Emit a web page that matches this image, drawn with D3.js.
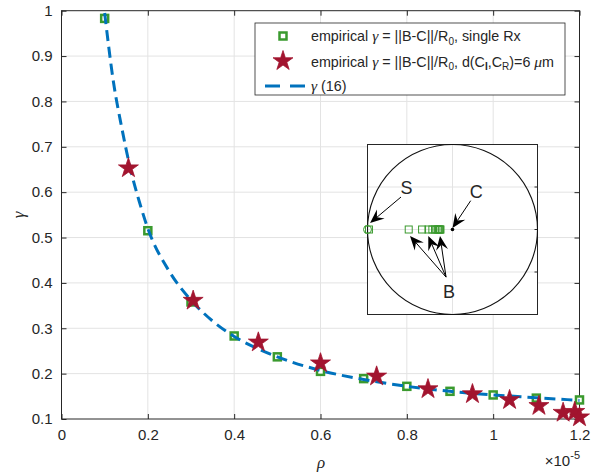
<!DOCTYPE html>
<html>
<head>
<meta charset="utf-8">
<script src="https://cdn.jsdelivr.net/npm/d3@7"></script>
<style>
  body { margin: 0; background: #fff; }
  text { font-family: "Liberation Sans", Arial, Helvetica, sans-serif; fill: #262626; }
  .tex { font-family: "Liberation Serif", "Times New Roman", serif; font-style: italic; }
</style>
</head>
<body>
<div id="chart"></div>
<script>
// rho values in units of 1e-5
const rhoSingle = [0.1, 0.2, 0.3, 0.4, 0.5, 0.6, 0.7, 0.8, 0.9, 1.0, 1.1, 1.2];
const gammaSingle = [0.983, 0.515, 0.358, 0.283, 0.237, 0.205, 0.189, 0.172, 0.161, 0.153, 0.146, 0.142];

const rhoPair = [0.155, 0.305, 0.456, 0.600, 0.730, 0.849, 0.952, 1.038, 1.106, 1.162, 1.189, 1.2];
const gammaPair = [0.653, 0.361, 0.269, 0.223, 0.194, 0.166, 0.155, 0.142, 0.129, 0.114, 0.116, 0.104];

const rhoCurve = [0.1, 0.12, 0.14, 0.16, 0.18, 0.2, 0.25, 0.3, 0.35, 0.4, 0.45, 0.5, 0.6, 0.7, 0.8, 0.9, 1.0, 1.1, 1.2];
const gammaCurve = [0.995, 0.845, 0.74, 0.65, 0.58, 0.52, 0.425, 0.362, 0.316, 0.282, 0.257, 0.237, 0.207, 0.187, 0.172, 0.161, 0.153, 0.147, 0.141];

const xTicks = [0, 0.2, 0.4, 0.6, 0.8, 1, 1.2];
const yTicks = [0.1, 0.2, 0.3, 0.4, 0.5, 0.6, 0.7, 0.8, 0.9, 1];

const green = "#3a9a2e";
const red = "#a2142f";
const blue = "#0072bd";
const axisColor = "#262626";

const width = 603, height = 472;
const svg = d3.select("#chart").append("svg")
  .attr("width", width).attr("height", height);

const x = d3.scaleLinear().domain([0, 1.2]).range([61.5, 579.5]);
const y = d3.scaleLinear().domain([0.1, 1]).range([419, 10.7]);

// grid
svg.append("g").selectAll("line").data(xTicks.slice(1, -1)).enter().append("line")
  .attr("x1", d => x(d)).attr("x2", d => x(d))
  .attr("y1", y(0.1)).attr("y2", y(1))
  .attr("stroke", "#e3e3e3").attr("stroke-width", 1);
svg.append("g").selectAll("line").data(yTicks.slice(1, -1)).enter().append("line")
  .attr("y1", d => y(d)).attr("y2", d => y(d))
  .attr("x1", x(0)).attr("x2", x(1.2))
  .attr("stroke", "#e3e3e3").attr("stroke-width", 1);

// axes (box with inward ticks on all sides)
const fmt = d => String(d);
svg.append("g").attr("transform", `translate(0,${y(0.1)})`)
  .call(d3.axisBottom(x).tickValues(xTicks).tickSize(-5).tickPadding(10).tickFormat(fmt))
  .call(g => g.select(".domain").remove());
svg.append("g").attr("transform", `translate(0,${y(1)})`)
  .call(d3.axisTop(x).tickValues(xTicks).tickSize(-5).tickFormat(""))
  .call(g => g.select(".domain").remove());
svg.append("g").attr("transform", `translate(${x(0)},0)`)
  .call(d3.axisLeft(y).tickValues(yTicks).tickSize(-5).tickPadding(9).tickFormat(fmt))
  .call(g => g.select(".domain").remove());
svg.append("g").attr("transform", `translate(${x(1.2)},0)`)
  .call(d3.axisRight(y).tickValues(yTicks).tickSize(-5).tickFormat(""))
  .call(g => g.select(".domain").remove());
svg.selectAll(".tick line").attr("stroke", axisColor);
svg.selectAll(".tick text").attr("font-size", 15).attr("fill", "#1a1a1a")
  .style("font-family", "'Liberation Sans', Arial, sans-serif");

svg.append("rect")
  .attr("x", x(0)).attr("y", y(1))
  .attr("width", x(1.2) - x(0)).attr("height", y(0.1) - y(1))
  .attr("fill", "none").attr("stroke", axisColor).attr("stroke-width", 1);

// axis labels
svg.append("text").attr("class", "tex")
  .attr("x", 321).attr("y", 468).attr("text-anchor", "middle")
  .attr("font-size", 17).text("\u03C1");
svg.append("text").attr("class", "tex")
  .attr("transform", "translate(24,215) rotate(-90)").attr("text-anchor", "middle")
  .attr("font-size", 17).text("\u03B3");
const expo = svg.append("text").attr("x", 580).attr("y", 466)
  .attr("text-anchor", "end").attr("font-size", 15);
expo.append("tspan").text("\u00D710");
expo.append("tspan").attr("dy", -7).attr("font-size", 11).text("-5");

// markers
function pentagram(r) {
  const pts = [];
  for (let i = 0; i < 10; i++) {
    const a = -Math.PI / 2 + i * Math.PI / 5;
    const rr = i % 2 === 0 ? r : r * 0.382;
    pts.push([rr * Math.cos(a), rr * Math.sin(a)]);
  }
  return "M" + pts.map(p => p.join(",")).join("L") + "Z";
}

const single = rhoSingle.map((r, i) => ({ r, g: gammaSingle[i] }));
const pair = rhoPair.map((r, i) => ({ r, g: gammaPair[i] }));
const curve = rhoCurve.map((r, i) => ({ r, g: gammaCurve[i] }));

const sq = 7;
svg.append("g").selectAll("rect").data(single).enter().append("rect")
  .attr("x", d => x(d.r) - sq / 2).attr("y", d => y(d.g) - sq / 2)
  .attr("width", sq).attr("height", sq)
  .attr("fill", "#fff").attr("stroke", green).attr("stroke-width", 2.5);

svg.append("path").datum(curve)
  .attr("d", d3.line().x(d => x(d.r)).y(d => y(d.g)).curve(d3.curveMonotoneX))
  .attr("fill", "none").attr("stroke", blue).attr("stroke-width", 3)
  .attr("stroke-dasharray", "11,6");

svg.append("g").selectAll("path").data(pair).enter().append("path")
  .attr("d", pentagram(10.5))
  .attr("transform", d => `translate(${x(d.r)},${y(d.g)})`)
  .attr("fill", red).attr("stroke", red).attr("stroke-width", 0.8);

// legend
const lg = svg.append("g");
lg.append("rect").attr("x", 255).attr("y", 23).attr("width", 310).attr("height", 72)
  .attr("fill", "#fff").attr("stroke", axisColor).attr("stroke-width", 0.8);
lg.append("rect").attr("x", 283 - sq / 2).attr("y", 36 - sq / 2).attr("width", sq).attr("height", sq)
  .attr("fill", "#fff").attr("stroke", green).attr("stroke-width", 2.5);
lg.append("path").attr("d", pentagram(10.5)).attr("transform", "translate(283,61)")
  .attr("fill", red).attr("stroke", red).attr("stroke-width", 0.8);
lg.append("line").attr("x1", 265).attr("x2", 308).attr("y1", 86).attr("y2", 86)
  .attr("stroke", blue).attr("stroke-width", 3).attr("stroke-dasharray", "15,10");

function gammaEq(t) {
  t.append("tspan").text("empirical ");
  t.append("tspan").attr("class", "tex").attr("font-size", 15.5).text("\u03B3");
  t.append("tspan").text(" = ||B-C||/R");
  t.append("tspan").attr("dy", 3.5).attr("font-size", 10).text("0");
  t.append("tspan").attr("dy", -3.5).text(",");
}
const fs = 14.3;
const t1 = lg.append("text").attr("x", 311).attr("y", 41).attr("font-size", fs);
gammaEq(t1);
t1.append("tspan").text(" single Rx");
const t2 = lg.append("text").attr("x", 311).attr("y", 66.5).attr("font-size", fs);
gammaEq(t2);
t2.append("tspan").text(" d(C");
t2.append("tspan").attr("dy", 3.5).attr("font-size", 10).attr("font-weight", "bold").text("I");
t2.append("tspan").attr("dy", -3.5).text(",C");
t2.append("tspan").attr("dy", 3.5).attr("font-size", 10).text("R");
t2.append("tspan").attr("dy", -3.5).text(")=6 ");
t2.append("tspan").attr("class", "tex").attr("font-size", 15.5).text("\u03BC");
t2.append("tspan").text("m");
const t3 = lg.append("text").attr("x", 311).attr("y", 91).attr("font-size", fs);
t3.append("tspan").attr("class", "tex").attr("font-size", 15.5).text("\u03B3");
t3.append("tspan").text(" (16)");

// inset: receiver geometry, unit circle of radius R0
const ix = d3.scaleLinear().domain([-1, 1]).range([367.5, 537.5]);
const iy = d3.scaleLinear().domain([-1, 1]).range([314.5, 144.5]);
const inset = svg.append("g");
inset.append("rect").attr("x", ix(-1)).attr("y", iy(1))
  .attr("width", ix(1) - ix(-1)).attr("height", iy(-1) - iy(1))
  .attr("fill", "#fff");
inset.append("line").attr("x1", ix(0)).attr("x2", ix(0)).attr("y1", iy(1)).attr("y2", iy(-1))
  .attr("stroke", "#e3e3e3");
inset.selectAll(".hg").data([-0.5, 0, 0.5]).enter().append("line")
  .attr("x1", ix(-1)).attr("x2", ix(1)).attr("y1", d => iy(d)).attr("y2", d => iy(d))
  .attr("stroke", "#e3e3e3");
inset.selectAll(".rt").data([-0.5, 0, 0.5]).enter().append("line")
  .attr("x1", ix(1) - 3).attr("x2", ix(1)).attr("y1", d => iy(d)).attr("y2", d => iy(d))
  .attr("stroke", axisColor);
inset.append("rect").attr("x", ix(-1)).attr("y", iy(1))
  .attr("width", ix(1) - ix(-1)).attr("height", iy(-1) - iy(1))
  .attr("fill", "none").attr("stroke", axisColor).attr("stroke-width", 1);
inset.append("circle").attr("cx", ix(0)).attr("cy", iy(0)).attr("r", ix(1) - ix(0))
  .attr("fill", "none").attr("stroke", "#111").attr("stroke-width", 1.1);

// S (transmitter), B points, C center
inset.append("circle").attr("cx", ix(-1)).attr("cy", iy(0)).attr("r", 4)
  .attr("fill", "none").attr("stroke", green).attr("stroke-width", 1);
const isq = 7;
inset.selectAll(".b").data(gammaSingle).enter().append("rect")
  .attr("x", d => ix(-d) - isq / 2).attr("y", iy(0) - isq / 2)
  .attr("width", isq).attr("height", isq)
  .attr("fill", "none").attr("stroke", green).attr("stroke-width", 1);
inset.append("circle").attr("cx", ix(0)).attr("cy", iy(0)).attr("r", 1.8).attr("fill", "#000");

// annotation arrows
const arrows = [
  { from: [-0.606, 0.382], to: [-0.97, 0.076] },
  { from: [0.214, 0.339], to: [0.0, 0.018] },
  { from: [-0.076, -0.56], to: [-0.5, -0.076] },
  { from: [-0.076, -0.56], to: [-0.285, -0.076] },
  { from: [-0.076, -0.56], to: [-0.147, -0.076] }
];
arrows.forEach(a => {
  const x1 = ix(a.from[0]), y1 = iy(a.from[1]);
  const x2 = ix(a.to[0]), y2 = iy(a.to[1]);
  const ang = Math.atan2(y2 - y1, x2 - x1);
  const hl = 14, hw = 6, back = 9;
  const ca = Math.cos(ang), sa = Math.sin(ang);
  const bx = x2 - hl * ca, by = y2 - hl * sa;
  const mx = x2 - back * ca, my = y2 - back * sa;
  inset.append("line").attr("x1", x1).attr("y1", y1).attr("x2", mx).attr("y2", my)
    .attr("stroke", "#000").attr("stroke-width", 1);
  inset.append("path")
    .attr("d", `M${x2},${y2}L${bx - hw * sa},${by + hw * ca}L${mx},${my}L${bx + hw * sa},${by - hw * ca}Z`)
    .attr("fill", "#000");
});

const labels = [
  { t: "S", p: [-0.54, 0.49] },
  { t: "C", p: [0.28, 0.445] },
  { t: "B", p: [-0.04, -0.735] }
];
inset.selectAll(".lbl").data(labels).enter().append("text")
  .attr("x", d => ix(d.p[0])).attr("y", d => iy(d.p[1]) + 6.5)
  .attr("text-anchor", "middle").attr("font-size", 18).attr("fill", "#000")
  .text(d => d.t);
</script>
</body>
</html>
